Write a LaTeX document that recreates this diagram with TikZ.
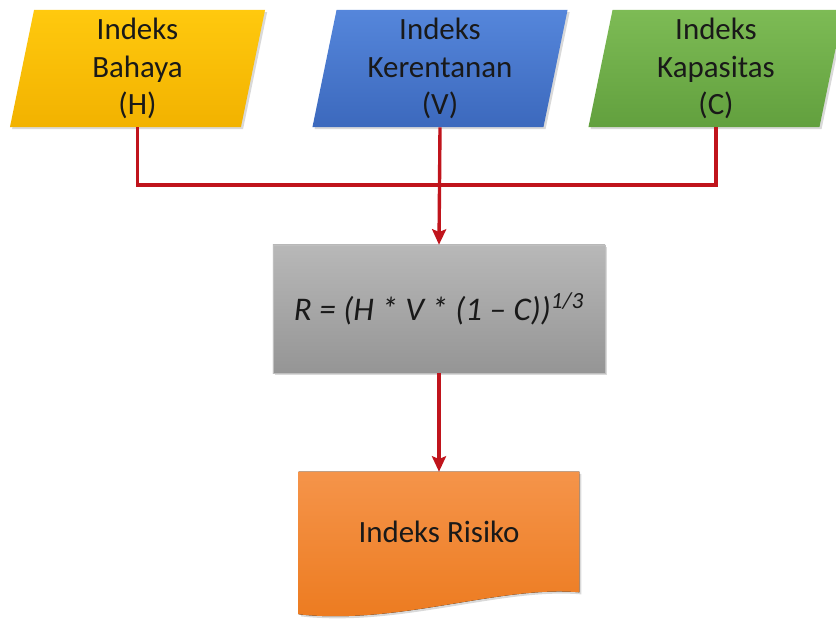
\documentclass[tikz,border=0pt]{standalone}
\usepackage{fontspec}
\setmainfont{Carlito}
\usetikzlibrary{arrows.meta, shapes.geometric, shadows, backgrounds, calc}

\definecolor{hazardtop}{HTML}{FFC90E}
\definecolor{hazardbot}{HTML}{F2B200}
\definecolor{vulntop}{HTML}{5586DB}
\definecolor{vulnbot}{HTML}{3C69BD}
\definecolor{captop}{HTML}{7DBB55}
\definecolor{capbot}{HTML}{62A03E}
\definecolor{formtop}{HTML}{B8B8B8}
\definecolor{formbot}{HTML}{959595}
\definecolor{risktop}{HTML}{F5944A}
\definecolor{riskbot}{HTML}{EC7A1E}
\definecolor{linkred}{HTML}{C0141C}

\begin{document}
\begin{tikzpicture}[
    x=0.025cm, y=-0.025cm,
    idx/.style={trapezium, trapezium stretches body=true,
                trapezium left angle=76.5, trapezium right angle=103.5,
                minimum width=6.375cm, minimum height=2.925cm, inner sep=0pt,
                align=center, text=black!90, font=\fontsize{22}{26.5}\selectfont,
                drop shadow={opacity=0.3, shadow xshift=1.5pt, shadow yshift=-1.5pt}},
    link/.style={draw=linkred, line width=2.4pt},
    arr/.style={link, -{Stealth[length=11pt, width=10pt, inset=2pt]}}
  ]
    \useasboundingbox (0,0) rectangle (836,620);

    \node[idx, top color=hazardtop, bottom color=hazardbot] (H) at (137.5,68.5)
      {Indeks\\Bahaya\\(H)};
    \node[idx, top color=vulntop, bottom color=vulnbot]     (V) at (440,68.5)
      {Indeks\\Kerentanan\\(V)};
    \node[idx, top color=captop, bottom color=capbot]       (C) at (716,68.5)
      {Indeks\\Kapasitas\\(C)};

    \node[draw=black!25, top color=formtop, bottom color=formbot,
          minimum width=8.3cm, minimum height=3.2cm, text=black!90,
          font=\fontsize{23.5}{28}\selectfont\itshape,
          drop shadow={opacity=0.3, shadow xshift=1.5pt, shadow yshift=-1.5pt}]
      (formula) at (439,309) {R = (H * V * (1 -- C))\textsuperscript{1/3}};

    \node[minimum width=7cm, minimum height=3cm, text=black!90,
          font=\fontsize{22}{26.5}\selectfont] (risk) at (439,532) {Indeks Risiko};
    \begin{scope}[on background layer]
      \fill[top color=risktop, bottom color=riskbot,
            drop shadow={opacity=0.3, shadow xshift=1.5pt, shadow yshift=-1.5pt}]
        (risk.north west) -- (risk.north east) -- (risk.south east)
        .. controls +(-80,-7) and +(100,11) .. ($(risk.south west)+(0,22)$) -- cycle;
    \end{scope}

    \coordinate (join) at (440,185);
    \draw[link] (H.center |- H.south) |- (join) -| (C.center |- C.south);
    \draw[arr] (V.center |- V.south) -- (formula.north);
    \draw[arr] (formula.south) -- (risk.north);
\end{tikzpicture}
\end{document}
